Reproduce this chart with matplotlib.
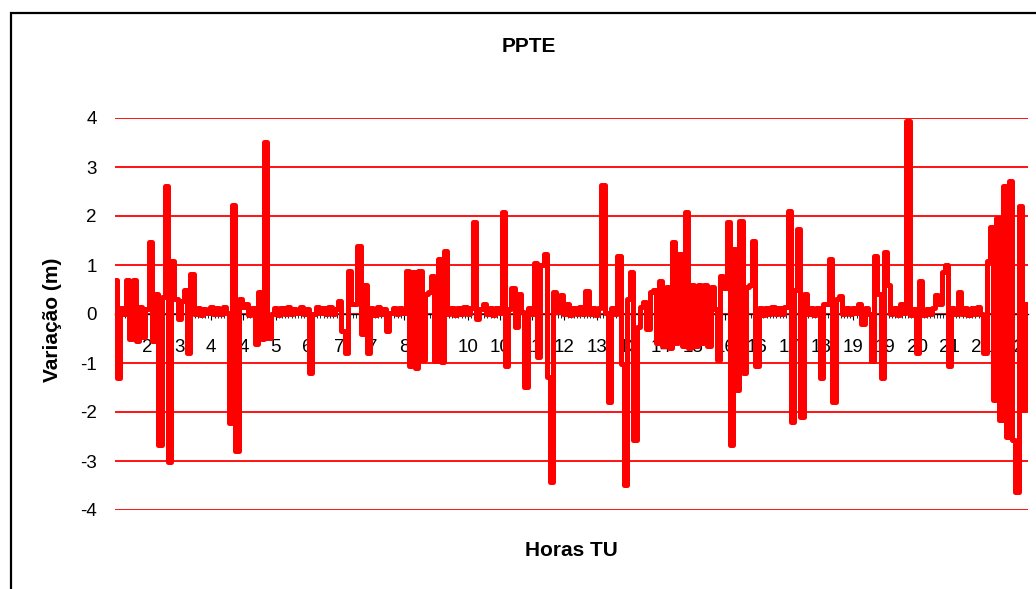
import matplotlib
matplotlib.use("Agg")
import matplotlib.pyplot as plt
from matplotlib.patches import Rectangle
from matplotlib.ticker import FixedLocator, MultipleLocator

plt.rcParams['font.family'] = ['Liberation Sans', 'DejaVu Sans']
plt.rcParams['axes.unicode_minus'] = False

# variation (m), one value per sample
variacao = [
    0.7, -1.3, 0.12, 0.0, 0.7, -0.52, 0.7, -0.55, 0.14, -0.46,
    0.1, 1.46, -0.55, 0.4, -2.67, 0.35, 2.61, -3.02, 1.08, 0.3,
    -0.1, 0.26, 0.5, -0.79, 0.81, 0.0, 0.13, -0.02, 0.1, 0.02,
    0.14, -0.01, 0.12, 0.0, 0.15, 0.02, -2.22, 2.22, -2.8, 0.3,
    0.15, 0.2, -0.02, 0.12, -0.62, 0.44, -0.5, 3.51, -0.48, 0.0,
    0.13, -0.02, 0.12, 0.01, 0.14, -0.01, 0.11, 0.02, 0.14, 0.0,
    0.1, -1.2, 0.0, 0.14, 0.02, 0.12, -0.01, 0.15, 0.0, 0.1,
    0.26, -0.35, -0.79, 0.87, 0.2, 0.2, 1.38, -0.4, 0.6, -0.79,
    0.12, -0.02, 0.14, 0.01, 0.1, -0.35, 0.02, 0.13, -0.01, 0.12,
    0.02, 0.87, -1.07, 0.85, -1.1, 0.87, -0.93, 0.4, 0.45, 0.77,
    -0.95, 1.12, -0.98, 1.28, 0.0, 0.13, -0.02, 0.12, 0.01, 0.15,
    -0.01, 0.12, 1.87, -0.1, 0.1, 0.2, 0.0, 0.13, -0.02, 0.12,
    0.02, 2.08, -1.07, 0.1, 0.54, -0.27, 0.4, 0.05, -1.48, 0.12,
    0.0, 1.05, -0.87, 1.0, 1.22, -1.28, -3.43, 0.44, 0.05, 0.38,
    0.0, 0.2, -0.02, 0.12, 0.01, 0.14, -0.01, 0.46, 0.0, 0.12,
    -0.02, 0.13, 2.63, 0.02, -1.79, 0.12, 0.0, 1.18, -1.03, -3.49,
    0.3, 0.85, -2.57, -0.27, 0.15, 0.25, -0.3, 0.45, 0.5, -0.6,
    0.67, -0.65, 0.55, -0.7, 1.46, -0.6, 1.22, -0.65, 2.08, -0.7,
    0.6, -0.65, 0.6, -0.6, 0.6, -0.66, 0.55, 0.1, -0.93, 0.77,
    0.54, 1.87, -2.67, 1.32, -1.55, 1.9, -1.2, 0.55, 0.6, 1.49,
    -1.07, 0.12, -0.02, 0.13, 0.0, 0.15, -0.01, 0.12, 0.01, 0.14,
    2.1, -2.2, 0.5, 1.73, -2.1, 0.4, 0.0, 0.13, -0.02, 0.12,
    -1.3, 0.2, 0.2, 1.12, -1.79, 0.3, 0.36, 0.0, 0.13, -0.01,
    0.12, 0.02, 0.2, -0.2, 0.12, 0.0, -0.95, 1.18, 0.4, -1.3,
    1.26, 0.6, 0.0, 0.13, -0.02, 0.2, 0.02, 3.94, -0.02, 0.1,
    -0.79, 0.67, -0.02, 0.1, 0.0, 0.12, 0.38, 0.2, 0.85, 1.01,
    -1.07, 0.12, -0.01, 0.44, 0.0, 0.13, -0.02, 0.12, 0.01, 0.14,
    0.0, -0.79, 1.08, 1.77, -1.75, 1.95, -2.16, 2.61, -2.5, 2.72,
    -2.57, -3.63, 2.2, -1.96, 0.2,
]

# hour labels shown on the category axis, one every 10 samples
horas = ['2', '3', '4', '4', '5', '6', '7', '7', '8', '9', '10', '10', '11', '12',
         '13', '13', '14', '15', '16', '16', '17', '18', '19', '19', '20', '21', '21', '22']
label_step = 10

y_ticks = [-4, -3, -2, -1, 0, 1, 2, 3, 4]

W, H = 1036, 589
fig = plt.figure(figsize=(W / 100, H / 100), dpi=100)
ax = fig.add_axes([115 / W, 1 - 510 / H, 913 / W, 392 / H])

x = list(range(len(variacao)))
# dense record: each sample drawn as a short plateau so spikes stand upright
ax.plot(x, variacao, color='#ff0000', lw=3.6, drawstyle='steps-mid',
        solid_joinstyle='round', solid_capstyle='round', zorder=3)

ax.set_xlim(0, 284.4)
ax.set_ylim(-4, 4)

# horizontal gridlines in red, no box around the plot
ax.set_yticks(y_ticks)
ax.grid(axis='y', color='#ff0000', lw=1.3)
ax.set_axisbelow(True)
for side in ('top', 'right', 'left'):
    ax.spines[side].set_visible(False)

# category axis crosses at zero
ax.spines['bottom'].set_position(('data', 0))
ax.spines['bottom'].set_color('black')
ax.spines['bottom'].set_linewidth(1.0)

ax.xaxis.set_major_locator(FixedLocator([label_step * (i + 1) for i in range(len(horas))]))
ax.set_xticklabels(horas)
ax.xaxis.set_minor_locator(MultipleLocator(1))
ax.tick_params(axis='x', which='major', length=4, width=0.8, pad=14,
               labelsize=13.5, colors='black', direction='out')
ax.tick_params(axis='x', which='minor', length=3, width=0.6, direction='out')
ax.tick_params(axis='y', length=0, pad=13, labelsize=13.5)

fig.text(529 / W, 1 - 46 / H, 'PPTE', ha='center', va='center',
         fontsize=15, weight='bold')
fig.text(52 / W, 1 - 320 / H, 'Variação (m)', ha='center', va='center',
         rotation=90, fontsize=15, weight='bold')
fig.text(571 / W, 1 - 551 / H, 'Horas TU', ha='center', va='center',
         fontsize=15, weight='bold')

# chart border (runs off the right and bottom edges)
fig.patches.append(Rectangle((10.5 / W, -0.05), 1.1, 1 - 12.5 / H + 0.05,
                             transform=fig.transFigure, fill=False,
                             edgecolor='black', lw=1.6))

fig.savefig('out.png', dpi=100)
